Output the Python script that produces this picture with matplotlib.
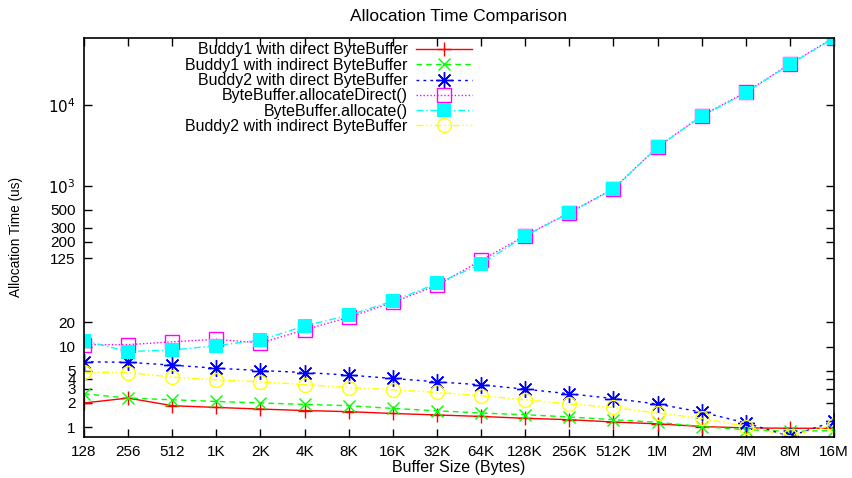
import numpy as np
import matplotlib
matplotlib.use("Agg")
import matplotlib.pyplot as plt

plt.rcParams['font.family'] = ['Liberation Sans', 'DejaVu Sans']

size_labels = ['128', '256', '512', '1K', '2K', '4K', '8K', '16K', '32K', '64K',
               '128K', '256K', '512K', '1M', '2M', '4M', '8M', '16M']
sizes = [128 * 2 ** k for k in range(len(size_labels))]

buddy1_direct = [2.0, 2.3, 1.85, 1.76, 1.68, 1.61, 1.56, 1.48, 1.42, 1.36,
                 1.29, 1.24, 1.16, 1.10, 1.02, 0.98, 0.97, 0.97]
buddy1_indirect = [2.6, 2.3, 2.19, 2.09, 2.0, 1.92, 1.85, 1.71, 1.60, 1.50,
                   1.43, 1.34, 1.24, 1.15, 1.02, 0.93, 0.89, 0.91]
buddy2_direct = [6.5, 6.4, 5.9, 5.4, 5.06, 4.78, 4.44, 4.03, 3.66, 3.36,
                 2.97, 2.60, 2.27, 1.94, 1.54, 1.13, 0.77, 1.18]
alloc_direct = [10.6, 10.6, 11.5, 12.4, 11.1, 16.2, 23.2, 35.5, 57.8, 118,
                240, 462, 920, 3020, 7400, 14500, 32500, 69000]
alloc_heap = [11.9, 8.7, 9.1, 10.3, 12.1, 18.1, 24.6, 36.9, 61, 106,
              238, 459, 910, 3010, 7310, 14250, 32200, 68400]
buddy2_indirect = [4.83, 4.78, 4.19, 3.88, 3.66, 3.39, 3.11, 2.92, 2.70, 2.46,
                   2.19, 1.95, 1.76, 1.50, 1.29, 1.02, 0.78, 1.07]

ytick_vals = [1, 2, 3, 4, 5, 10, 20, 125, 200, 300, 500, 1000, 10000]
ytick_labels = ['1', '2', '3', '4', '5', '10', '20', '125', '200', '300', '500',
                r'$10^3$', r'$10^4$']

fig = plt.figure(figsize=(8.53, 4.78), dpi=100)
ax = fig.add_axes([84 / 853, 1 - 436.7 / 478, 750 / 853, 399 / 478])

fs = 11
lw = 1.0
ax.plot(sizes, buddy1_direct, color='#ff0000', linestyle='-', lw=lw,
        marker='+', markersize=10, markeredgewidth=1.0,
        label='Buddy1 with direct ByteBuffer')
ax.plot(sizes, buddy1_indirect, color='#00ff00', linestyle=(0, (4, 3)), lw=lw,
        marker='x', markersize=9, markeredgewidth=1.0,
        label='Buddy1 with indirect ByteBuffer')
ax.plot(sizes, buddy2_direct, color='#0000ff', linestyle=(0, (2, 3)), lw=lw,
        marker=(8, 2, 0), markersize=12, markeredgewidth=1.0,
        label='Buddy2 with direct ByteBuffer')
ax.plot(sizes, alloc_direct, color='#ff00ff', linestyle=(0, (1, 1.5)), lw=lw,
        marker='s', markersize=9.5, markerfacecolor='none', markeredgewidth=1.0,
        label='ByteBuffer.allocateDirect()')
ax.plot(sizes, alloc_heap, color='#00ffff', linestyle=(0, (5, 2, 1, 2)), lw=lw,
        marker='s', markersize=10, markerfacecolor='#00ffff', markeredgewidth=0,
        label='ByteBuffer.allocate()')
ax.plot(sizes, buddy2_indirect, color='#ffff00', linestyle=(0, (5, 2, 1, 2, 1, 2)), lw=lw,
        marker='o', markersize=10, markerfacecolor='none', markeredgewidth=1.0,
        label='Buddy2 with indirect ByteBuffer')

ax.set_xscale('log', base=2)
ax.set_yscale('log')
ax.set_xlim(sizes[0], sizes[-1])
ax.set_ylim(0.762, 69000)
ax.set_xticks(sizes)
ax.set_xticklabels(size_labels, fontsize=fs)
ax.xaxis.set_minor_locator(matplotlib.ticker.NullLocator())
ax.set_yticks(ytick_vals)
ax.set_yticklabels(ytick_labels, fontsize=fs)
ax.yaxis.set_minor_locator(matplotlib.ticker.NullLocator())
ax.tick_params(direction='in', length=6, width=1, top=True, right=True, pad=6)
for s in ax.spines.values():
    s.set_linewidth(1.2)

ax.set_title('Allocation Time Comparison', fontsize=12.5, pad=12)
ax.set_xlabel('Buffer Size (Bytes)', fontsize=11.5, labelpad=1)
ax.set_ylabel('Allocation Time (us)', fontsize=9.8, labelpad=18)

leg = ax.legend(loc='upper right', bbox_to_anchor=(0.524, 1.0), frameon=False,
                markerfirst=False, fontsize=11.5, handlelength=3.5, handletextpad=0.55,
                labelspacing=0.02, borderaxespad=0.2, borderpad=0.1)

fig.savefig('out.png', dpi=100)
